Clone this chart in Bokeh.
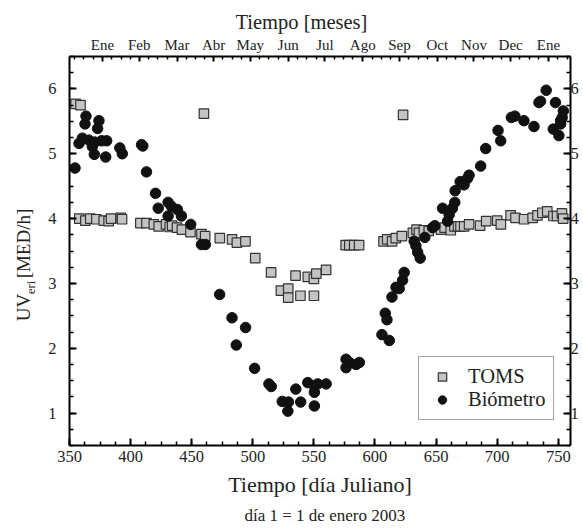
import math
import numpy as np
from bokeh.plotting import figure
from bokeh.layouts import row
from bokeh.models import (Range1d, LinearAxis, FixedTicker, SingleIntervalTicker,
                          Legend, LegendItem, Title)
from bokeh.core.properties import value
from bokeh.embed import file_html
from bokeh.resources import INLINE

# ---------------- data ----------------
toms_day = [355, 359, 358, 363, 367, 372, 378, 382, 384, 392, 393, 408, 413, 419, 423,
            429, 432, 434, 438, 442, 449, 458, 460, 461, 473, 483, 487, 494, 502, 515,
            523, 529, 529, 535, 539, 550, 545, 550, 552, 560, 576, 579, 583, 587, 607,
            610, 614, 617, 622, 623, 631, 634, 636, 640, 644, 654, 657, 662, 665, 668,
            670, 673, 677, 686, 691, 700, 703, 711, 715, 722, 729, 733, 737, 741, 746,
            749, 753, 754]
toms_uv = [5.77, 5.75, 4.00, 3.97, 4.00, 3.99, 3.97, 3.96, 4.00, 4.01, 3.99, 3.93, 3.93, 3.91, 3.88,
           3.91, 3.87, 3.89, 3.86, 3.83, 3.79, 3.76, 5.62, 3.73, 3.70, 3.68, 3.63, 3.65, 3.39, 3.17,
           2.89, 2.92, 2.78, 3.12, 2.81, 2.81, 3.10, 3.07, 3.15, 3.21, 3.59, 3.59, 3.59, 3.59, 3.65,
           3.68, 3.65, 3.70, 3.73, 5.60, 3.78, 3.83, 3.78, 3.82, 3.81, 3.83, 3.86, 3.82, 3.88, 3.88,
           3.88, 3.88, 3.91, 3.89, 3.96, 3.97, 3.91, 4.05, 4.01, 3.99, 4.01, 4.05, 4.09, 4.11, 4.04,
           4.04, 4.08, 4.00]

bio_day = [354.5, 363.5, 362.7, 357.8, 360.5, 365.9, 368.7, 370.3, 370.8, 374.1, 373.0, 376.3,
           379.6, 380.4, 391.2, 393.2, 409.0, 410.0, 413.0, 420.4, 422.6, 430.7, 433.4, 438.3,
           430.7, 441.6, 449.2, 458.0, 461.2, 472.9, 483.0, 494.1, 486.5, 501.5, 513.2, 515.1,
           524.1, 528.7, 529.2, 535.2, 539.2, 545.0, 550.4, 550.4, 550.4, 553.2, 560.0, 576.3,
           576.3, 579.0, 587.2, 584.5, 605.7, 611.7, 608.4, 609.8, 613.9, 617.2, 619.8, 622.6,
           623.9, 632.1, 633.5, 634.9, 637.0, 640.8, 647.1, 649.0, 655.3, 659.4, 660.7, 663.4,
           665.3, 665.6, 669.7, 672.9, 675.7, 677.0, 686.5, 690.6, 700.7, 702.9, 711.6, 714.5,
           721.9, 730.1, 734.2, 735.5, 740.1, 747.7, 745.9, 750.5, 751.9, 753.2, 754.1, 751.9]
bio_uv = [4.78, 5.58, 5.46, 5.16, 5.24, 5.21, 5.11, 4.99, 5.18, 5.51, 5.39, 5.20,
          4.95, 5.20, 5.09, 5.00, 5.14, 5.12, 4.72, 4.39, 4.16, 4.25, 4.19, 4.14,
          4.04, 4.04, 3.91, 3.60, 3.60, 2.83, 2.47, 2.32, 2.05, 1.69, 1.45, 1.41,
          1.18, 1.03, 1.17, 1.37, 1.17, 1.47, 1.42, 1.32, 1.11, 1.45, 1.45, 1.83,
          1.70, 1.78, 1.78, 1.75, 2.21, 2.12, 2.54, 2.44, 2.79, 2.94, 2.92, 3.05,
          3.17, 3.65, 3.58, 3.48, 3.39, 3.71, 3.86, 3.89, 4.16, 3.96, 4.06, 4.16,
          4.25, 4.43, 4.57, 4.52, 4.62, 4.67, 4.81, 5.08, 5.36, 5.20, 5.56, 5.58,
          5.51, 5.42, 5.79, 5.81, 5.98, 5.79, 5.38, 5.28, 5.46, 5.56, 5.66, 5.51]

month_names = ["Ene", "Feb", "Mar", "Abr", "May", "Jun", "Jul",
               "Ago", "Sep", "Oct", "Nov", "Dec", "Ene"]
month_ticks = [377, 407, 438, 468, 498, 529, 559, 590, 620, 651, 681, 711, 742]

series_names = ["TOMS", "Biómetro"]
ylabel_parts = ["UV", "eri", "[MED/h]"]

FONT = "Liberation Serif"
TXT = "#222222"

# ---------------- main figure ----------------
p = figure(width=543, height=528, output_backend="svg", toolbar_location=None,
           x_range=Range1d(350, 760), y_range=Range1d(0.5, 6.5),
           min_border_left=29, min_border_right=13, min_border_top=56,
           min_border_bottom=81)
p.grid.visible = False
p.outline_line_color = None


def style_axis(ax, tick_in=7, minor_in=4, size="16.5px"):
    ax.axis_line_width = 2
    ax.axis_line_color = "black"
    ax.major_tick_in = tick_in
    ax.major_tick_out = 0
    ax.minor_tick_in = minor_in
    ax.minor_tick_out = 0
    ax.major_tick_line_width = 2
    ax.minor_tick_line_width = 1.5
    ax.major_tick_line_color = "black"
    ax.minor_tick_line_color = "black"
    ax.major_label_text_font = FONT
    ax.major_label_text_font_size = size
    ax.major_label_text_color = TXT


# bottom axis
p.xaxis.ticker = SingleIntervalTicker(interval=50, num_minor_ticks=4)
style_axis(p.xaxis[0])
p.xaxis.major_label_standoff = 5
p.xaxis.axis_label = "Tiempo [día Juliano]"
p.xaxis.axis_label_text_font = FONT
p.xaxis.axis_label_text_font_size = "22px"
p.xaxis.axis_label_text_font_style = "normal"
p.xaxis.axis_label_text_color = TXT
p.xaxis.axis_label_standoff = 7

# left axis
p.yaxis.ticker = SingleIntervalTicker(interval=1, num_minor_ticks=4)
style_axis(p.yaxis[0])
p.yaxis.major_label_standoff = 13

# right axis
ax_r = LinearAxis(ticker=SingleIntervalTicker(interval=1, num_minor_ticks=4))
style_axis(ax_r)
ax_r.major_label_standoff = 0
p.add_layout(ax_r, "right")

# top axis (months)
mt = np.array(month_ticks, dtype=float)
step = np.diff(mt).mean()
minor = []
for a in np.concatenate([[mt[0] - step], mt]):
    for k in (1, 2, 3):
        v = a + k * step / 4
        if 350 < v < 760:
            minor.append(round(float(v), 2))
ax_t = LinearAxis(ticker=FixedTicker(ticks=month_ticks, minor_ticks=minor),
                  major_label_overrides={t: n for t, n in zip(month_ticks, month_names)})
style_axis(ax_t, tick_in=5, minor_in=3, size="15px")
ax_t.major_label_standoff = 4
p.add_layout(ax_t, "above")

# titles (texts outside the frame)
p.title.text = "Tiempo [meses]"
p.title.text_font = FONT
p.title.text_font_size = "20.5px"
p.title.text_font_style = "normal"
p.title.text_color = TXT
p.title.align = "left"
p.title.offset = 166
p.title.standoff = 1

foot = Title(text="día 1 = 1 de enero 2003", text_font=FONT, text_font_size="17px",
             text_font_style="normal", text_color=TXT, align="left", offset=175, standoff=8)
p.add_layout(foot, "below")

# ---------------- data glyphs ----------------
r_toms = p.scatter(toms_day, toms_uv, marker="square", size=9.5,
                   fill_color="#c4c4c4", line_color="#333333", line_width=1.2)
r_bio = p.scatter(bio_day, bio_uv, marker="circle", size=10.5,
                  fill_color="#111111", line_color="#111111")

legend = Legend(items=[LegendItem(label=series_names[0], renderers=[r_toms]),
                       LegendItem(label=series_names[1], renderers=[r_bio])],
                location=(349, 25))
legend.label_text_font = FONT
legend.label_text_font_size = "20.5px"
legend.label_text_color = TXT
legend.border_line_color = "#444444"
legend.border_line_width = 1
legend.background_fill_color = "white"
legend.background_fill_alpha = 1
legend.padding = 8
legend.spacing = 0
legend.margin = 0
legend.glyph_width = 30
legend.glyph_height = 21
legend.label_height = 21
legend.label_standoff = 11
p.add_layout(legend)

# ---------------- y-axis label (rotated, with subscript) ----------------
# the frame of this narrow figure is aligned with the main frame (y 56..447)
q = figure(width=40, height=528, output_backend="svg", toolbar_location=None,
           x_range=Range1d(0, 40), y_range=Range1d(447, 56),
           x_axis_location=None, y_axis_location=None, min_border=0)
q.grid.visible = False
q.outline_line_color = None
q.title.visible = False
q.text(x=[23.3], y=[322], text=[ylabel_parts[0]], angle=math.pi / 2,
       text_align="left", text_baseline="middle", text_font=value(FONT),
       text_font_size="19px", text_color=TXT)
q.text(x=[30], y=[295], text=[ylabel_parts[1]], angle=math.pi / 2,
       text_align="left", text_baseline="middle", text_font=value(FONT),
       text_font_size="13px", text_color=TXT)
q.text(x=[23.3], y=[279], text=[ylabel_parts[2]], angle=math.pi / 2,
       text_align="left", text_baseline="middle", text_font=value(FONT),
       text_font_size="19px", text_color=TXT)

layout = row(q, p, spacing=0)
open("out.html", "w").write(file_html(layout, INLINE))
